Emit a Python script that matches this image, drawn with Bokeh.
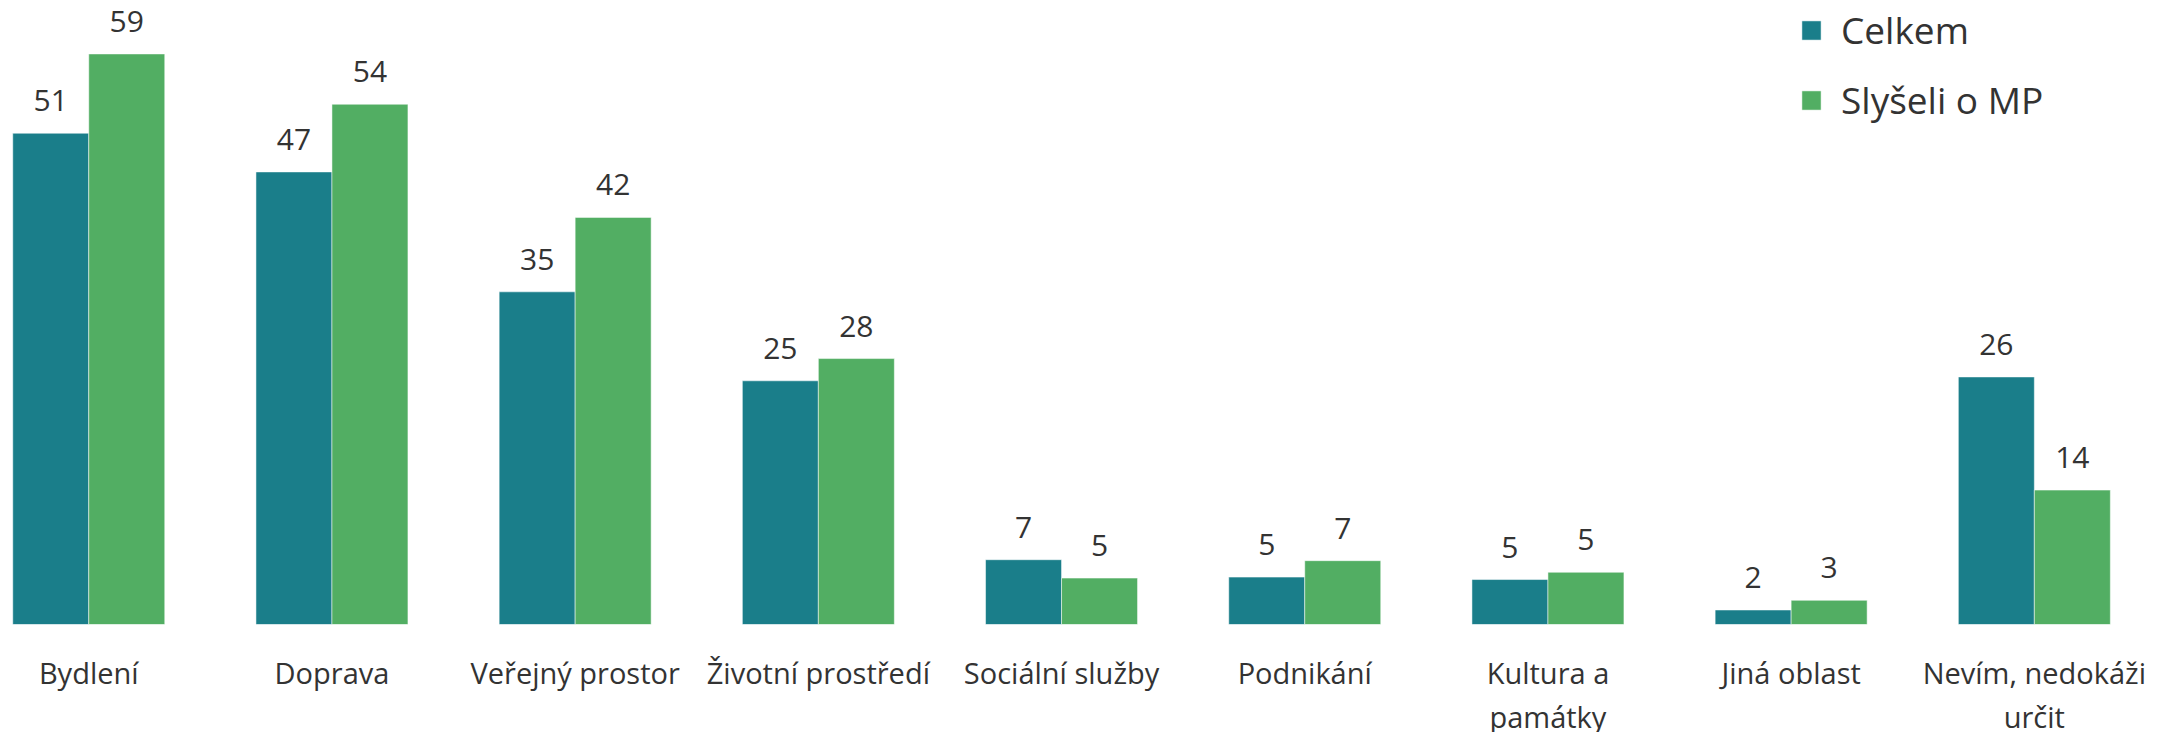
from bokeh.plotting import figure
from bokeh.models import ColumnDataSource, Range1d, FixedTicker, Legend, LegendItem, LabelSet
from bokeh.core.properties import value
from bokeh.embed import file_html
from bokeh.resources import INLINE

categories = ["Bydlení", "Doprava", "Veřejný prostor", "Životní prostředí",
              "Sociální služby", "Podnikání", "Kultura a\npamátky", "Jiná oblast",
              "Nevím, nedokáži\nurčit"]
celkem = [50.8, 46.8, 34.4, 25.2, 6.7, 4.9, 4.65, 1.5, 25.6]
slyseli = [59.0, 53.8, 42.1, 27.5, 4.8, 6.6, 5.4, 2.5, 13.9]
celkem_labels = ["51", "47", "35", "25", "7", "5", "5", "2", "26"]
slyseli_labels = ["59", "54", "42", "28", "5", "7", "5", "3", "14"]
series_names = ["Celkem", "Slyšeli o MP"]
colors = ["#1a7e8a", "#52ae63"]

FONT = "Open Sans"
TXT = "#333333"
bw = 0.3125
idx = list(range(len(categories)))

src1 = ColumnDataSource(dict(x=[i - bw / 2 for i in idx], top=celkem, lab=celkem_labels))
src2 = ColumnDataSource(dict(x=[i + bw / 2 for i in idx], top=slyseli, lab=slyseli_labels))

p = figure(frame_width=2163, frame_height=616, output_backend="svg", toolbar_location=None,
           x_range=Range1d(-0.330, 8.564), y_range=Range1d(0, 63.7),
           min_border_left=8, min_border_right=0, min_border_top=8, min_border_bottom=100)
p.outline_line_color = None
p.xgrid.visible = False
p.ygrid.visible = False
p.yaxis.visible = False

r1 = p.vbar(x="x", top="top", width=bw, bottom=0, source=src1, fill_color=colors[0],
            line_color="white", line_alpha=0.5, line_width=1)
r2 = p.vbar(x="x", top="top", width=bw, bottom=0, source=src2, fill_color=colors[1],
            line_color="white", line_alpha=0.5, line_width=1)

for s in (src1, src2):
    p.add_layout(LabelSet(x="x", y="top", text="lab", source=s, text_align="center",
                          text_baseline="alphabetic", y_offset=22, text_font=value(FONT),
                          text_font_size="30px", text_color=TXT))

ax = p.xaxis[0]
ax.ticker = FixedTicker(ticks=idx)
ax.major_label_overrides = {i: c for i, c in enumerate(categories)}
ax.axis_line_color = None
ax.major_tick_line_color = None
ax.minor_tick_line_color = None
ax.major_label_text_font = FONT
ax.major_label_text_font_size = "29px"
ax.major_label_text_color = TXT
ax.major_label_text_line_height = 1.15
ax.major_label_standoff = 22

legend = Legend(items=[LegendItem(label=series_names[0], renderers=[r1]),
                       LegendItem(label=series_names[1], renderers=[r2])],
                location=(1791, 499), glyph_width=24, glyph_height=24,
                label_text_font=FONT, label_text_font_size="37px", label_text_color=TXT,
                label_standoff=18, padding=0, spacing=19, margin=0,
                border_line_color=None, background_fill_alpha=0)
p.add_layout(legend)

open("out.html", "w").write(file_html(p, INLINE))
